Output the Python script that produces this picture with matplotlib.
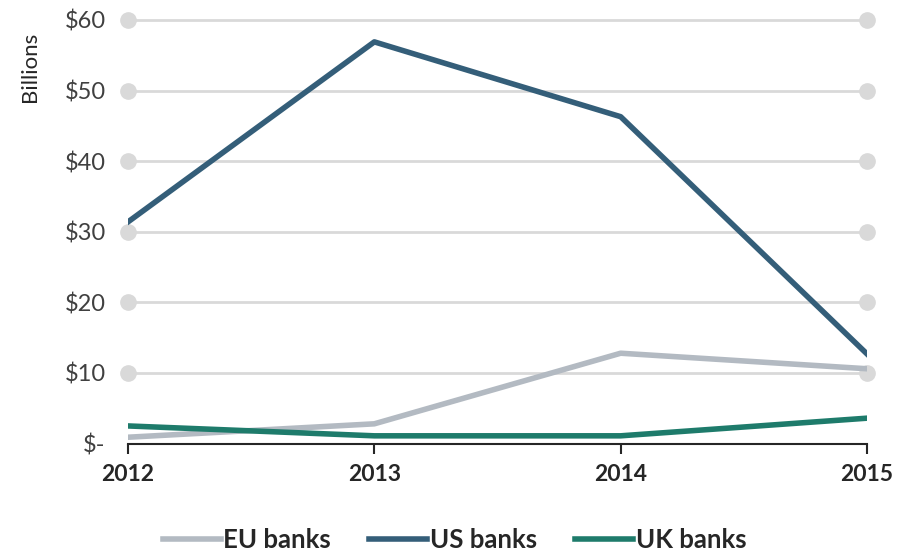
import matplotlib.pyplot as plt
import numpy as np

# ---- data (USD billions) -----------------------------------------------------
years = [2012, 2013, 2014, 2015]
eu_banks = [0.9, 2.8, 12.8, 10.6]
us_banks = [31.4, 56.9, 46.3, 12.7]
uk_banks = [2.5, 1.1, 1.1, 3.6]
y_ticks = [0, 10, 20, 30, 40, 50, 60]
y_labels = ['$-', '$10', '$20', '$30', '$40', '$50', '$60']

plt.rcParams['font.family'] = ['Lato', 'DejaVu Sans']

fig = plt.figure(figsize=(9.11, 5.52), dpi=100)
ax = fig.add_axes([0.1405, 0.1964, 0.8112, 0.7674])

grid_c = '#d9d9d9'
# gridlines with round dots at both ends
for v in y_ticks[1:]:
    ax.plot([years[0], years[-1]], [v, v], color=grid_c, lw=2, zorder=1,
            clip_on=False, solid_capstyle='butt')
    ax.plot([years[0], years[-1]], [v, v], 'o', color=grid_c, ms=11,
            zorder=1, clip_on=False)

ax.plot(years, eu_banks, color='#b3bac2', lw=4, label='EU banks', zorder=3)
ax.plot(years, us_banks, color='#345e79', lw=4, label='US banks', zorder=3)
ax.plot(years, uk_banks, color='#1e7b6b', lw=4, label='UK banks', zorder=3)

ax.set_xlim(years[0], years[-1])
ax.set_ylim(0, 60)
ax.set_xticks(years)
ax.set_xticklabels([str(y) for y in years], fontsize=16.5, fontweight='bold',
                   color='#262626')
ax.set_yticks(y_ticks)
ax.set_yticklabels(y_labels, fontsize=17, color='#404040')
ax.tick_params(axis='y', length=0, pad=16)
ax.tick_params(axis='x', direction='out', length=7, width=1.5,
               color='#262626', pad=8)
for s in ['top', 'right', 'left']:
    ax.spines[s].set_visible(False)
ax.spines['bottom'].set_color('#262626')
ax.spines['bottom'].set_linewidth(1.5)
ax.set_ylabel('Billions', fontsize=16, color='#262626')
ax.yaxis.set_label_coords(-0.119, 0.89)

leg = ax.legend(loc='center', bbox_to_anchor=(0.442, -0.227), ncol=3,
                frameon=False, handlelength=2.25, handletextpad=0.1,
                columnspacing=1.5, prop={'size': 18.5, 'weight': 'bold'})
for t in leg.get_texts():
    t.set_color('#262626')

fig.savefig('out.png', dpi=100)
